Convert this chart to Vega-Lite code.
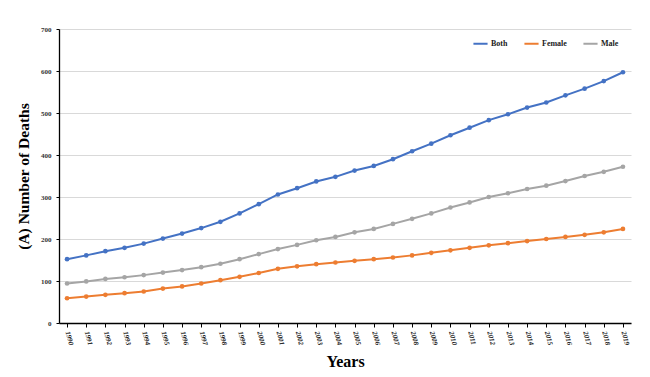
{
  "$schema": "https://vega.github.io/schema/vega-lite/v6.json",
  "width": 572,
  "height": 294,
  "autosize": {"type": "none"},
  "padding": {"left": 59, "top": 29, "right": 19, "bottom": 54},
  "background": "white",
  "config": {
    "view": {"stroke": null},
    "font": "Liberation Serif",
    "axis": {"labelFont": "Liberation Serif", "titleFont": "Liberation Serif"},
    "legend": {"labelFont": "Liberation Serif"}
  },
  "datasets": {
    "d": [
      {"year":"1990","sex":"Both","value":152},{"year":"1991","sex":"Both","value":161},{"year":"1992","sex":"Both","value":171},{"year":"1993","sex":"Both","value":179},{"year":"1994","sex":"Both","value":189},{"year":"1995","sex":"Both","value":201},{"year":"1996","sex":"Both","value":213},{"year":"1997","sex":"Both","value":226},{"year":"1998","sex":"Both","value":241},{"year":"1999","sex":"Both","value":261},{"year":"2000","sex":"Both","value":283},{"year":"2001","sex":"Both","value":306},{"year":"2002","sex":"Both","value":321},{"year":"2003","sex":"Both","value":337},{"year":"2004","sex":"Both","value":348},{"year":"2005","sex":"Both","value":363},{"year":"2006","sex":"Both","value":374},{"year":"2007","sex":"Both","value":390},{"year":"2008","sex":"Both","value":409},{"year":"2009","sex":"Both","value":427},{"year":"2010","sex":"Both","value":447},{"year":"2011","sex":"Both","value":465},{"year":"2012","sex":"Both","value":483},{"year":"2013","sex":"Both","value":497},{"year":"2014","sex":"Both","value":513},{"year":"2015","sex":"Both","value":525},{"year":"2016","sex":"Both","value":542},{"year":"2017","sex":"Both","value":558},{"year":"2018","sex":"Both","value":576},{"year":"2019","sex":"Both","value":597},
      {"year":"1990","sex":"Female","value":59},{"year":"1991","sex":"Female","value":63},{"year":"1992","sex":"Female","value":67},{"year":"1993","sex":"Female","value":71},{"year":"1994","sex":"Female","value":75},{"year":"1995","sex":"Female","value":82},{"year":"1996","sex":"Female","value":87},{"year":"1997","sex":"Female","value":94},{"year":"1998","sex":"Female","value":102},{"year":"1999","sex":"Female","value":110},{"year":"2000","sex":"Female","value":119},{"year":"2001","sex":"Female","value":129},{"year":"2002","sex":"Female","value":135},{"year":"2003","sex":"Female","value":140},{"year":"2004","sex":"Female","value":144},{"year":"2005","sex":"Female","value":148},{"year":"2006","sex":"Female","value":152},{"year":"2007","sex":"Female","value":156},{"year":"2008","sex":"Female","value":161},{"year":"2009","sex":"Female","value":167},{"year":"2010","sex":"Female","value":173},{"year":"2011","sex":"Female","value":179},{"year":"2012","sex":"Female","value":185},{"year":"2013","sex":"Female","value":190},{"year":"2014","sex":"Female","value":195},{"year":"2015","sex":"Female","value":200},{"year":"2016","sex":"Female","value":205},{"year":"2017","sex":"Female","value":210},{"year":"2018","sex":"Female","value":216},{"year":"2019","sex":"Female","value":224},
      {"year":"1990","sex":"Male","value":94},{"year":"1991","sex":"Male","value":99},{"year":"1992","sex":"Male","value":105},{"year":"1993","sex":"Male","value":109},{"year":"1994","sex":"Male","value":114},{"year":"1995","sex":"Male","value":120},{"year":"1996","sex":"Male","value":126},{"year":"1997","sex":"Male","value":133},{"year":"1998","sex":"Male","value":141},{"year":"1999","sex":"Male","value":152},{"year":"2000","sex":"Male","value":164},{"year":"2001","sex":"Male","value":176},{"year":"2002","sex":"Male","value":186},{"year":"2003","sex":"Male","value":197},{"year":"2004","sex":"Male","value":205},{"year":"2005","sex":"Male","value":216},{"year":"2006","sex":"Male","value":224},{"year":"2007","sex":"Male","value":236},{"year":"2008","sex":"Male","value":248},{"year":"2009","sex":"Male","value":261},{"year":"2010","sex":"Male","value":275},{"year":"2011","sex":"Male","value":287},{"year":"2012","sex":"Male","value":300},{"year":"2013","sex":"Male","value":309},{"year":"2014","sex":"Male","value":319},{"year":"2015","sex":"Male","value":327},{"year":"2016","sex":"Male","value":338},{"year":"2017","sex":"Male","value":350},{"year":"2018","sex":"Male","value":360},{"year":"2019","sex":"Male","value":372}
    ]
  },
  "data": {"name": "d"},
  "mark": {"type": "line", "strokeWidth": 2, "point": {"filled": true, "size": 22, "shape": "circle"}},
  "encoding": {
    "x": {
      "field": "year", "type": "ordinal",
      "scale": {"type": "point", "padding": 0.42},
      "axis": {
        "title": "Years", "titleFontSize": 16, "titleFontWeight": "bold", "titleColor": "#000", "titlePadding": 8,
        "labelAngle": 75, "labelFontSize": 7, "labelFontWeight": "bold", "labelColor": "#222", "labelFontStyle": "italic",
        "labelAlign": "left", "labelBaseline": "middle", "labelPadding": 4,
        "domainColor": "#000", "domainWidth": 1.3, "tickColor": "#000", "tickSize": 4, "grid": false
      }
    },
    "y": {
      "field": "value", "type": "quantitative",
      "scale": {"domain": [0, 700], "nice": false},
      "axis": {
        "title": "(A) Number of Deaths", "titleFontSize": 15.5, "titleFontWeight": "bold", "titleColor": "#000", "titlePadding": 9,
        "values": [0,100,200,300,400,500,600,700],
        "labelFontSize": 7, "labelFontWeight": "bold", "labelColor": "#333", "labelPadding": 5,
        "domainColor": "#000", "domainWidth": 1.3, "tickColor": "#000", "tickSize": 3,
        "gridColor": "#d9d9d9", "gridWidth": 1
      }
    },
    "color": {
      "field": "sex", "type": "nominal",
      "scale": {"domain": ["Both", "Female", "Male"], "range": ["#4472C4", "#ED7D31", "#A5A5A5"]},
      "legend": {
        "title": null, "orient": "none", "direction": "horizontal", "legendX": 413, "legendY": 6,
        "labelFontSize": 8, "labelFontWeight": "bold", "labelColor": "#222",
        "symbolType": "stroke", "symbolSize": 200, "symbolStrokeWidth": 2, "columnPadding": 12, "labelOffset": 2
      }
    }
  }
}
